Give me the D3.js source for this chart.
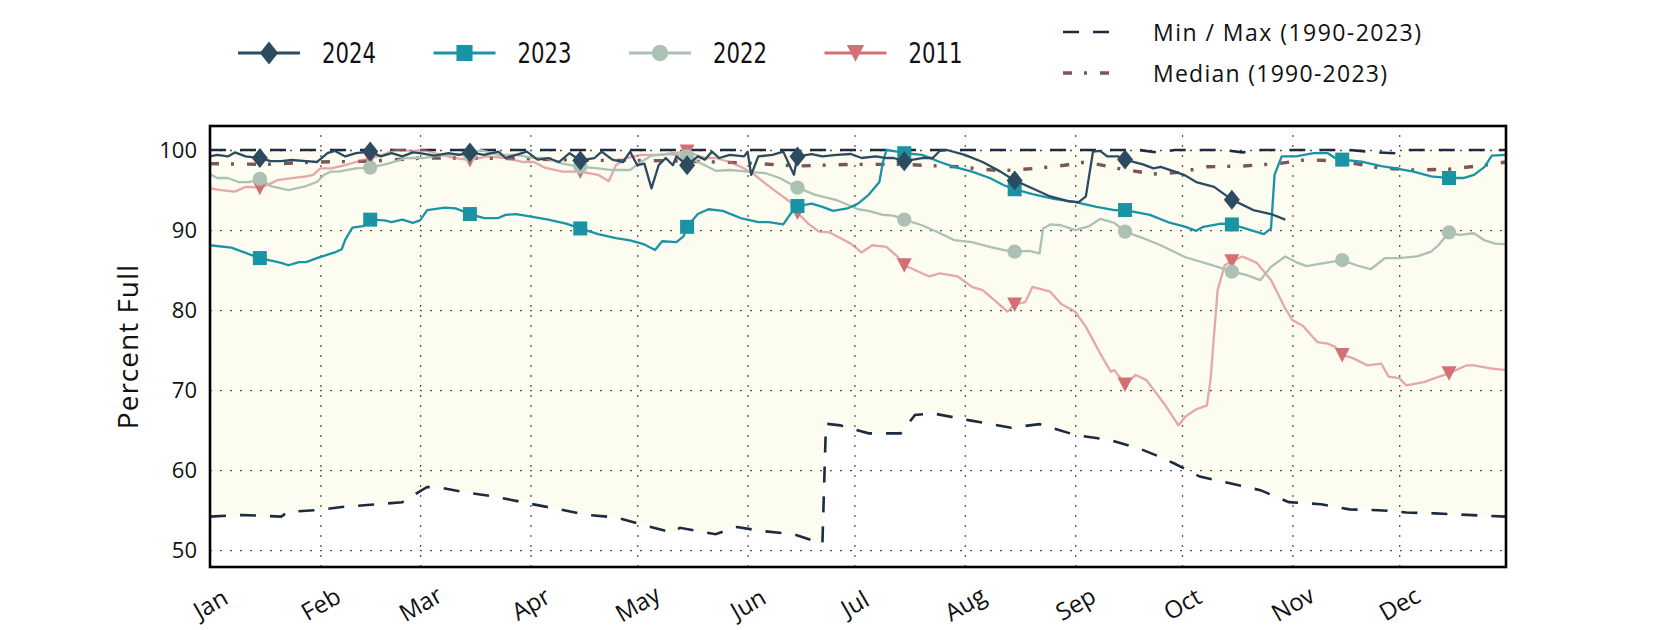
<!DOCTYPE html>
<html>
<head>
<meta charset="utf-8">
<script src="https://cdn.jsdelivr.net/npm/d3@7"></script>
<style>
  body { margin: 0; background: #fff; }
  text { font-family: "Open Sans", "Noto Sans", sans-serif; fill: #111; }
</style>
</head>
<body>
<script>
// day of year (0 = Jan 1) , percent full
const markerDays = [14, 45, 73, 104, 134, 165, 195, 226, 257, 287, 318, 348];
const yTicks = [50, 60, 70, 80, 90, 100];

const pct2024 = [[0,99.2],[2,99.4],[5,99.2],[7,99.7],[10,99.2],[14,99.0],[17,98.6],[20,98.6],[23,98.75],[27,98.6],[30,98.5],[33,99.6],[35,99.9],[38,99.2],[41,99.6],[45,99.8],[48,99.2],[51,99.6],[54,99.2],[57,99.7],[59,99.6],[63,99.3],[67,99.6],[70,99.4],[73,99.7],[77,99.4],[81,99.8],[83,99.0],[86,99.4],[89,99.8],[92,98.8],[95,99.0],[98,98.5],[101,99.6],[104,98.7],[108,99.0],[110,99.8],[113,98.8],[116,98.5],[118,99.8],[120,98.1],[122,98.3],[124,95.2],[126,98.1],[128,99.0],[130,98.1],[131,99.2],[134,98.1],[137,99.2],[139,98.8],[141,99.8],[143,99.0],[146,99.4],[150,99.2],[151,99.8],[152,96.9],[154,99.2],[158,99.4],[161,99.8],[164,96.9],[165,99.2],[169,99.5],[172,99.2],[176,99.4],[180,99.5],[183,99.0],[187,99.2],[190,99.0],[192,99.0],[195,98.6],[200,99.0],[203,99.0],[205,99.9],[207,100],[212,99.4],[217,98.5],[222,97.3],[226,96.2],[232,95.0],[236,94.2],[241,93.6],[244,93.5],[246,94.2],[248,99.8],[250,99.9],[252,99.2],[255,99.2],[257,98.8],[262,98.2],[265,97.7],[267,97.9],[271,97.3],[274,96.8],[277,96.0],[282,95.4],[287,93.8],[293,92.5],[298,92.0],[302,91.3]];

const pct2023 = [[0,88.1],[6,87.8],[14,86.5],[20,85.9],[22,85.6],[25,86.0],[27,86.0],[30,86.5],[35,87.2],[37,87.6],[38,88.8],[40,90.3],[43,90.5],[45,91.3],[49,91.2],[51,91.0],[54,91.3],[57,90.9],[59,91.2],[61,92.5],[66,92.8],[69,92.7],[73,92.0],[77,91.5],[81,91.5],[83,91.9],[86,92.0],[91,91.6],[95,91.3],[100,90.8],[104,90.2],[109,89.5],[114,89.0],[118,88.7],[122,88.2],[125,87.5],[127,88.6],[131,88.5],[133,89.2],[134,90.4],[137,92.0],[140,92.6],[144,92.4],[149,91.5],[154,91.0],[157,91.0],[161,90.7],[163,92.0],[165,93.0],[169,93.3],[172,92.9],[175,92.4],[179,92.7],[182,93.3],[185,94.4],[188,96.0],[189,98.5],[190,100],[193,99.8],[195,99.6],[200,99.4],[205,98.5],[209,97.9],[214,97.3],[219,96.5],[223,95.6],[226,95.1],[231,94.5],[237,93.9],[243,93.5],[249,92.9],[254,92.5],[257,92.5],[264,91.9],[269,91.0],[274,90.4],[277,89.9],[279,90.4],[284,90.8],[287,90.7],[293,89.9],[296,89.5],[298,90.2],[299,96.9],[301,99.2],[305,99.2],[310,99.6],[314,99.6],[316,99.0],[318,98.8],[324,98.5],[329,98.0],[333,97.7],[338,97.3],[343,96.7],[348,96.5],[352,96.5],[355,96.9],[358,97.9],[360,99.3],[364,99.4]];

const pct2022 = [[0,97.0],[2,96.5],[5,96.5],[8,96.0],[11,96.0],[14,96.4],[17,95.5],[22,95.0],[27,95.5],[30,96.0],[32,96.9],[34,97.3],[36,97.3],[41,97.7],[45,97.8],[50,98.3],[55,99.0],[60,99.0],[64,99.3],[69,99.5],[73,99.4],[76,100],[81,99.4],[86,99.4],[91,99.0],[94,99.0],[99,98.3],[104,97.9],[109,97.7],[113,97.5],[118,97.5],[121,98.5],[124,99.3],[129,99.5],[134,99.2],[139,98.1],[142,97.4],[146,97.5],[151,97.3],[156,97.1],[160,96.5],[165,95.3],[170,94.4],[176,93.75],[182,92.6],[185,92.4],[189,91.9],[192,91.8],[195,91.3],[200,90.6],[205,89.6],[209,88.75],[214,88.5],[219,87.9],[223,87.5],[226,87.3],[230,87.4],[233,87.1],[234,90.2],[236,90.7],[239,90.6],[243,90.0],[247,90.5],[250,91.4],[254,90.9],[257,89.8],[262,89.0],[267,88.1],[274,86.6],[280,85.8],[283,85.4],[287,84.8],[291,84.4],[295,83.75],[298,85.4],[302,86.7],[305,86.0],[308,85.5],[312,85.8],[318,86.25],[322,85.6],[326,85.1],[330,86.5],[334,86.5],[339,86.7],[343,87.3],[345,88.1],[348,89.7],[351,89.4],[355,89.6],[358,88.7],[361,88.3],[364,88.25]];

const pct2011 = [[0,95.2],[3,95.0],[7,94.8],[10,95.4],[14,95.3],[17,95.8],[19,96.25],[23,96.5],[27,96.7],[29,96.9],[31,97.7],[34,97.7],[38,98.1],[41,98.5],[45,99.0],[48,99.3],[52,100],[57,99.9],[60,100],[64,99.5],[69,99.0],[73,98.75],[78,99.2],[83,99.0],[88,98.5],[91,98.5],[94,97.8],[99,97.3],[104,97.3],[109,96.9],[112,96.1],[114,98.1],[117,99.0],[121,99.4],[126,99.4],[130,99.6],[134,99.8],[139,99.0],[142,99.0],[146,98.5],[150,97.7],[153,96.9],[156,95.8],[159,94.8],[163,93.5],[165,92.2],[168,90.8],[171,89.8],[174,89.7],[177,89.0],[180,88.3],[183,87.2],[186,88.1],[190,87.9],[193,86.7],[195,85.6],[202,84.2],[205,84.6],[210,84.2],[214,82.9],[217,82.5],[222,80.6],[224,79.8],[226,80.7],[229,81.0],[231,82.9],[236,82.3],[239,80.8],[243,79.8],[246,77.9],[250,74.6],[253,72.3],[254,72.5],[257,70.7],[260,71.9],[263,71.25],[268,68.3],[272,65.6],[274,66.7],[277,67.6],[280,68.1],[281,71.25],[283,82.5],[285,85.6],[287,86.1],[290,86.7],[294,85.9],[298,83.75],[302,80.2],[304,78.75],[307,78.0],[311,76.0],[314,75.8],[316,75.4],[318,74.4],[321,74.0],[325,73.1],[329,73.3],[331,71.7],[334,71.5],[336,70.6],[341,71.0],[344,71.5],[348,72.1],[353,73.1],[355,73.1],[360,72.7],[364,72.5]];

const medianPct = [[0,98.3],[15,98.2],[30,98.5],[45,98.6],[60,99.0],[75,99.0],[90,98.9],[105,98.7],[120,98.7],[135,98.6],[150,98.4],[165,98.0],[180,98.2],[195,98.2],[210,97.9],[222,97.4],[232,97.7],[240,98.1],[246,98.5],[255,97.7],[265,97.0],[272,97.2],[280,97.9],[290,98.0],[300,98.3],[308,98.8],[318,98.6],[328,97.8],[338,97.5],[348,97.6],[358,98.1],[364,98.5]];

const envDays = [0,9,20,22,30,37,46,54,61,65,72,80,90,97,106,114,122,130,132,142,148,155,164,172,173,177,185,194,198,203,213,225,233,243,253,261,266,271,278,285,290,295,303,312,320,328,333,336,344,351,364];
const minPct = [54.2,54.4,54.2,54.8,55.0,55.4,55.7,56.0,57.9,57.8,57.2,56.7,55.8,55.2,54.4,54.1,53.1,52.2,52.8,52.0,52.9,52.4,52.0,50.8,65.8,65.6,64.6,64.6,66.9,67.1,66.25,65.3,65.75,64.4,63.75,62.7,61.8,60.8,59.2,58.5,58.0,57.5,56.0,55.75,55.1,55.0,54.85,54.7,54.6,54.45,54.2];
const maxPct = [100,100,100,100,100,100,100,100,100,100,100,100,100,100,100,100,100,100,100,100,100,100,100,100,100,100,100,100,100,100,100,100,100,100,100,100,99.7,100,100,100,99.7,100,100,100,100,99.7,99.6,100,100,100,100];

const width = 1680;
const height = 630;
const plot = {left: 210, right: 1506, top: 126, bottom: 567};

const svg = d3.select("body").append("svg")
  .attr("width", width)
  .attr("height", height);

const year0 = new Date(2023, 0, 1);
const toDate = day => d3.timeDay.offset(year0, day);

const x = d3.scaleTime()
  .domain([year0, new Date(2023, 11, 31)])
  .range([plot.left, plot.right]);
const y = d3.scaleLinear()
  .domain([47.9, 103])
  .range([plot.bottom, plot.top]);

const months = d3.timeMonth.range(year0, new Date(2024, 0, 1));

// banda min / max
const env = envDays.map((d, i) => ({day: d, lo: minPct[i], hi: maxPct[i]}));
svg.append("path")
  .datum(env)
  .attr("fill", "#fcfcf1")
  .attr("d", d3.area()
    .x(d => x(toDate(d.day)))
    .y0(d => y(d.lo))
    .y1(d => y(d.hi)));

// rejilla punteada
const gridX = svg.append("g")
  .attr("transform", `translate(0,${plot.bottom})`)
  .call(d3.axisBottom(x).tickValues(months).tickSize(-(plot.bottom - plot.top)).tickFormat(""));
const gridY = svg.append("g")
  .attr("transform", `translate(${plot.left},0)`)
  .call(d3.axisLeft(y).tickValues(yTicks).tickSize(-(plot.right - plot.left)).tickFormat(""));
[gridX, gridY].forEach(g => {
  g.select(".domain").remove();
  g.selectAll("line")
    .attr("stroke", "#555")
    .attr("stroke-width", 1.3)
    .attr("stroke-dasharray", "2,8");
});

const line = d3.line()
  .x(d => x(toDate(d[0])))
  .y(d => y(d[1]));

// min y max
svg.append("path")
  .datum(env.map(d => [d.day, d.hi]))
  .attr("fill", "none")
  .attr("stroke", "#1c2b3f")
  .attr("stroke-width", 2.6)
  .attr("stroke-dasharray", "16,14")
  .attr("d", line);
svg.append("path")
  .datum(env.map(d => [d.day, d.lo]))
  .attr("fill", "none")
  .attr("stroke", "#1c2b3f")
  .attr("stroke-width", 2.6)
  .attr("stroke-dasharray", "16,14")
  .attr("d", line);

// mediana
svg.append("path")
  .datum(medianPct)
  .attr("fill", "none")
  .attr("stroke", "#7b555a")
  .attr("stroke-width", 3.4)
  .attr("stroke-dasharray", "9,12,3,13")
  .attr("d", line);

const symbols = {
  diamond: "M0,-10L8,0L0,10L-8,0Z",
  square: "M-7,-7L7,-7L7,7L-7,7Z",
  circle: d3.symbol(d3.symbolCircle, 160)(),
  triangle: "M-7.5,-7L7.5,-7L0,7.5Z"
};

const series = [
  {name: "2011", data: pct2011, color: "#d46f74", lineOpacity: 0.6, symbol: "triangle"},
  {name: "2022", data: pct2022, color: "#adc0b4", lineOpacity: 1, symbol: "circle"},
  {name: "2023", data: pct2023, color: "#1a93a5", lineOpacity: 1, symbol: "square"},
  {name: "2024", data: pct2024, color: "#2c4a60", lineOpacity: 1, symbol: "diamond"}
];

series.forEach(s => {
  svg.append("path")
    .datum(s.data)
    .attr("fill", "none")
    .attr("stroke", s.color)
    .attr("stroke-opacity", s.lineOpacity)
    .attr("stroke-width", 2.3)
    .attr("stroke-linejoin", "round")
    .attr("d", line);

  svg.append("g")
    .selectAll("path")
    .data(s.data.filter(d => markerDays.includes(d[0])))
    .join("path")
    .attr("transform", d => `translate(${x(toDate(d[0]))},${y(d[1])})`)
    .attr("d", symbols[s.symbol])
    .attr("fill", s.color);
});

// marco
svg.append("rect")
  .attr("x", plot.left)
  .attr("y", plot.top)
  .attr("width", plot.right - plot.left)
  .attr("height", plot.bottom - plot.top)
  .attr("fill", "none")
  .attr("stroke", "#000")
  .attr("stroke-width", 2.6);

// etiquetas de ejes
const axY = svg.append("g")
  .attr("transform", `translate(${plot.left},0)`)
  .call(d3.axisLeft(y).tickValues(yTicks).tickSize(0).tickPadding(13));
axY.select(".domain").remove();
axY.selectAll("text")
  .style("font-size", "22px")
  .style("font-family", "'Open Sans', sans-serif")
  .attr("fill", "#111");

const axX = svg.append("g")
  .attr("transform", `translate(0,${plot.bottom})`)
  .call(d3.axisBottom(x).tickValues(months).tickSize(0).tickFormat(d3.timeFormat("%b")));
axX.select(".domain").remove();
axX.selectAll("text")
  .attr("y", 0)
  .attr("dy", "0.35em")
  .attr("text-anchor", "middle")
  .attr("transform", "translate(0,37) rotate(-30)")
  .style("font-size", "24px")
  .style("font-family", "'Open Sans', sans-serif")
  .attr("fill", "#111");

svg.append("text")
  .attr("transform", `translate(127,${(plot.top + plot.bottom) / 2}) rotate(-90)`)
  .attr("text-anchor", "middle")
  .attr("dominant-baseline", "central")
  .style("font-size", "28px")
  .style("letter-spacing", "1px")
  .text("Percent Full");

// leyenda
const legendOrder = ["2024", "2023", "2022", "2011"];
legendOrder.forEach((name, i) => {
  const s = series.find(d => d.name === name);
  const lg = svg.append("g").attr("transform", `translate(${238 + i * 195.5},53)`);
  lg.append("line")
    .attr("x1", 0).attr("x2", 62)
    .attr("stroke", s.color)
    .attr("stroke-width", 2.8);
  lg.append("path")
    .attr("transform", "translate(31,0) scale(1.15)")
    .attr("d", symbols[s.symbol])
    .attr("fill", s.color);
  lg.append("text")
    .attr("x", 84)
    .attr("dominant-baseline", "central")
    .attr("textLength", 54)
    .attr("lengthAdjust", "spacingAndGlyphs")
    .style("font-size", "28px")
    .style("font-family", "'Liberation Sans Narrow', 'DejaVu Sans Condensed', sans-serif")
    .text(name);
});

const refLegend = [
  {label: "Min / Max (1990-2023)", color: "#1c2b3f", dash: "16,14", w: 2.6, y: 32, len: 268},
  {label: "Median (1990-2023)", color: "#7b555a", dash: "9,12,3,13", w: 3.4, y: 73, len: 234}
];
refLegend.forEach(r => {
  const lg = svg.append("g").attr("transform", `translate(1063,${r.y})`);
  lg.append("line")
    .attr("x1", 0).attr("x2", 48)
    .attr("stroke", r.color)
    .attr("stroke-width", r.w)
    .attr("stroke-dasharray", r.dash);
  lg.append("text")
    .attr("x", 90)
    .attr("dominant-baseline", "central")
    .attr("textLength", r.len)
    .attr("lengthAdjust", "spacing")
    .style("font-size", "23px")
    .text(r.label);
});
</script>
</body>
</html>
